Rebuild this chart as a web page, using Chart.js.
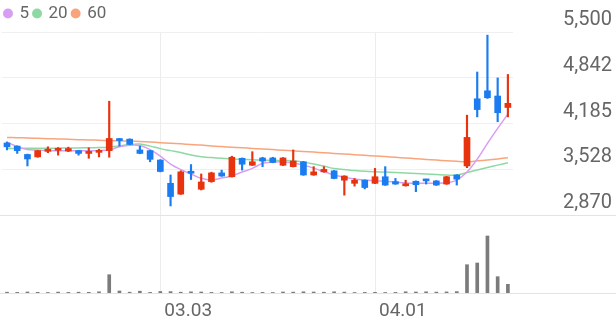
<!DOCTYPE html>
<html>
<head>
<meta charset="utf-8">
<script src="https://cdn.jsdelivr.net/npm/chart.js@4/dist/chart.umd.min.js"></script>
<style>
  html, body { margin: 0; padding: 0; background: #fff; }
  #wrap { width: 616px; height: 321px; }
</style>
</head>
<body>
<div id="wrap"><canvas id="stockChart"></canvas></div>
<script>
// Trading days (MM.DD)
const dates = [
    '02.04', '02.05', '02.06', '02.09', '02.10', '02.11', '02.12', '02.13', '02.19', '02.20',
    '02.23', '02.24', '02.25', '02.26', '02.27', '03.03', '03.04', '03.05', '03.06', '03.09',
    '03.10', '03.11', '03.12', '03.13', '03.16', '03.17', '03.18', '03.19', '03.20', '03.23',
    '03.24', '03.25', '03.26', '03.27', '03.30', '03.31', '04.01', '04.02', '04.03', '04.06',
    '04.07', '04.08', '04.09', '04.10', '04.13', '04.14', '04.15', '04.16', '04.17', '04.20'
];
const monthTicks = ['03.03', '04.01'];
const priceTicks = [5500, 4842, 4185, 3528, 2870];

// OHLC
const opens = [
    3905, 3860, 3740, 3705, 3785, 3800, 3790, 3795, 3755, 3770,
    3795, 3965, 3960, 3805, 3795, 3660, 3325, 3170, 3490, 3240,
    3350, 3475, 3420, 3685, 3585, 3690, 3690, 3585, 3565, 3635,
    3445, 3490, 3505, 3370, 3325, 3370, 3325, 3420, 3350, 3290,
    3355, 3380, 3360, 3315, 3445, 3575, 4540, 4655, 4580, 4415
];
const highs = [
    3920, 3865, 3745, 3800, 3850, 3840, 3845, 3800, 3835, 3815,
    4505, 3970, 3965, 3860, 3800, 3665, 3445, 3505, 3595, 3460,
    3485, 3515, 3715, 3690, 3780, 3700, 3700, 3695, 3805, 3640,
    3565, 3565, 3510, 3435, 3395, 3375, 3540, 3565, 3395, 3370,
    3360, 3385, 3365, 3425, 3450, 4305, 4925, 5455, 4840, 4890
];
const lows = [
    3805, 3755, 3575, 3700, 3765, 3730, 3780, 3730, 3685, 3705,
    3700, 3860, 3880, 3750, 3635, 3490, 3000, 3165, 3380, 3230,
    3340, 3425, 3415, 3515, 3580, 3565, 3620, 3580, 3560, 3440,
    3440, 3485, 3390, 3155, 3285, 3245, 3320, 3295, 3310, 3285,
    3205, 3315, 3295, 3310, 3300, 3550, 4280, 4545, 4210, 4280
];
const closes = [
    3850, 3795, 3675, 3795, 3815, 3820, 3825, 3755, 3780, 3790,
    3970, 3940, 3885, 3755, 3670, 3495, 3135, 3490, 3470, 3345,
    3475, 3430, 3700, 3600, 3635, 3645, 3625, 3690, 3645, 3445,
    3490, 3525, 3395, 3430, 3370, 3265, 3420, 3300, 3315, 3315,
    3305, 3360, 3300, 3420, 3385, 3985, 4385, 4555, 4340, 4475
];

// Moving averages
const ma5 = [
    3917, 3853, 3810, 3803, 3796, 3793, 3793, 3793, 3793, 3796,
    3803, 3850, 3874, 3870, 3810, 3717, 3602, 3523, 3459, 3397,
    3372, 3401, 3430, 3487, 3540, 3612, 3630, 3635, 3616, 3587,
    3544, 3491, 3444, 3411, 3386, 3372, 3362, 3353, 3343, 3329,
    3325, 3325, 3325, 3333, 3372, 3487, 3673, 3899, 4114, 4319
];
const ma20 = [
    3827, 3828, 3829, 3830, 3830, 3831, 3832, 3834, 3836, 3840,
    3845, 3860, 3884, 3890, 3860, 3824, 3795, 3767, 3731, 3706,
    3695, 3684, 3673, 3669, 3665, 3659, 3656, 3652, 3649, 3630,
    3602, 3573, 3537, 3523, 3508, 3497, 3491, 3487, 3480, 3473,
    3465, 3458, 3451, 3444, 3444, 3480, 3516, 3552, 3587, 3620
];
const ma60 = [
    3985, 3981, 3976, 3972, 3967, 3963, 3958, 3953, 3949, 3944,
    3940, 3937, 3932, 3925, 3918, 3910, 3901, 3893, 3884, 3875,
    3862, 3853, 3845, 3836, 3827, 3818, 3810, 3801, 3792, 3783,
    3774, 3764, 3755, 3746, 3737, 3728, 3718, 3709, 3699, 3689,
    3679, 3669, 3659, 3649, 3641, 3636, 3648, 3661, 3676, 3692
];

// Volume (relative)
const volumes = [
    8, 6, 10, 7, 5, 9, 6, 8, 7, 12,
    183, 20, 8, 18, 6, 15, 14, 8, 12, 10,
    6, 5, 12, 8, 5, 6, 5, 10, 9, 12,
    10, 8, 12, 9, 5, 6, 7, 5, 6, 12,
    10, 12, 9, 11, 14, 283, 300, 570, 163, 87
];

const upColor = '#e8330f';
const downColor = '#1a7cf0';
const candleColors = opens.map((o, i) => closes[i] >= o ? upColor : downColor);

// full-width separator lines under each pane
const panelLines = {
    id: 'panelLines',
    afterDraw(chart) {
        const c = chart.ctx;
        c.save();
        c.strokeStyle = '#e3e3e3';
        c.lineWidth = 1;
        [chart.scales.y.bottom, chart.scales.yVol.bottom].forEach(y => {
            const py = Math.round(y) + 0.5;
            c.beginPath();
            c.moveTo(0, py);
            c.lineTo(chart.width, py);
            c.stroke();
        });
        c.restore();
    }
};

function maLine(label, data, color) {
    return {
        type: 'line',
        label: label,
        data: data,
        borderColor: color,
        backgroundColor: color,
        borderWidth: 1.5,
        pointRadius: 0,
        tension: 0.3,
        yAxisID: 'y',
        order: 3
    };
}

const ctx = document.getElementById('stockChart').getContext('2d');
new Chart(ctx, {
    type: 'bar',
    data: {
        labels: dates,
        datasets: [
            maLine('5', ma5, '#d89ef2'),
            maLine('20', ma20, '#8ed9a3'),
            maLine('60', ma60, '#f8a57d'),
            {
                label: 'wick',
                data: lows.map((l, i) => [l, highs[i]]),
                backgroundColor: candleColors,
                barThickness: 1.5,
                grouped: false,
                yAxisID: 'y',
                order: 2
            },
            {
                label: 'body',
                data: opens.map((o, i) => [o, closes[i]]),
                backgroundColor: candleColors,
                barThickness: 6,
                minBarLength: 2,
                grouped: false,
                yAxisID: 'y',
                order: 1
            },
            {
                label: 'volume',
                data: volumes,
                backgroundColor: '#7b7b7b',
                barThickness: 3,
                grouped: false,
                yAxisID: 'yVol',
                order: 1
            }
        ]
    },
    options: {
        responsive: true,
        maintainAspectRatio: false,
        animation: false,
        layout: { padding: { left: 0, right: 4, top: 0, bottom: 0 } },
        scales: {
            x: {
                type: 'category',
                offset: true,
                grid: {
                    offset: false,
                    drawTicks: false,
                    color: c => monthTicks.includes(dates[c.index]) ? '#ececec' : 'rgba(0,0,0,0)'
                },
                border: { display: false },
                ticks: {
                    autoSkip: false,
                    maxRotation: 0,
                    align: 'start',
                    labelOffset: 4,
                    padding: 7,
                    color: '#666',
                    font: { family: 'Roboto', size: 19 },
                    callback: (v, i) => monthTicks.includes(dates[i]) ? dates[i] : ''
                },
                afterFit: s => { s.height = 28; }
            },
            y: {
                type: 'linear',
                position: 'right',
                stack: 'panes',
                stackWeight: 183,
                min: 2870,
                max: 5500,
                afterBuildTicks: s => { s.ticks = priceTicks.map(v => ({ value: v })); },
                grid: { color: '#efefef', drawTicks: false },
                border: { display: false },
                ticks: {
                    color: '#666',
                    font: { family: 'Roboto', size: 20 },
                    padding: 0,
                    crossAlign: 'far',
                    labelOffset: -12,
                    callback: v => v.toLocaleString('en-US')
                },
                afterFit: s => { s.width = 99; }
            },
            yVol: {
                type: 'linear',
                position: 'right',
                stack: 'panes',
                stackWeight: 78,
                min: 0,
                max: 780,
                grid: { display: false },
                border: { display: false },
                ticks: { display: false },
                afterFit: s => { s.width = 99; }
            }
        },
        plugins: {
            legend: {
                position: 'top',
                align: 'start',
                labels: {
                    usePointStyle: true,
                    pointStyle: 'circle',
                    boxWidth: 6,
                    boxHeight: 6,
                    padding: 5,
                    color: '#666',
                    font: { family: 'Roboto', size: 17 },
                    filter: item => ['5', '20', '60'].includes(item.text)
                }
            },
            tooltip: { enabled: false }
        }
    },
    plugins: [panelLines]
});
</script>
</body>
</html>
